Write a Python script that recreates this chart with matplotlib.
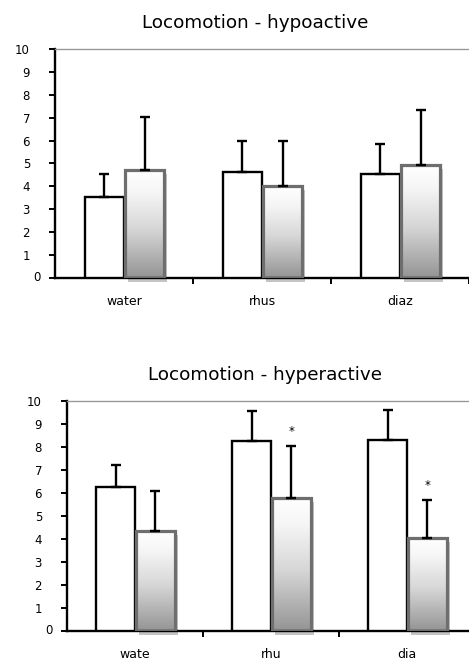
import numpy as np
import matplotlib
matplotlib.use("Agg")
import matplotlib.pyplot as plt
from matplotlib.patches import Rectangle
from matplotlib.colors import LinearSegmentedColormap
import matplotlib.transforms as mtransforms

plt.rcParams['font.family'] = ['DejaVu Sans']

titles = ["Locomotion - hypoactive", "Locomotion - hyperactive"]
cats_top = ["water", "rhus", "diaz"]
cats_bot = ["wate", "rhu", "dia"]
yticks = list(range(0, 11))

top_white = [3.55, 4.62, 4.52]
top_white_err = [1.0, 1.38, 1.33]
top_gray = [4.7, 4.0, 4.95]
top_gray_err = [2.35, 2.0, 2.4]

bot_white = [6.25, 8.25, 8.3]
bot_white_err = [0.95, 1.3, 1.3]
bot_gray = [4.35, 5.8, 4.05]
bot_gray_err = [1.75, 2.25, 1.65]
bot_star = [False, True, True]

W, H = 469, 660
fig = plt.figure(figsize=(W / 100, H / 100), dpi=100)

cmap = LinearSegmentedColormap.from_list(
    "g", [(0.0, "#ffffff"), (0.2, "#f6f6f6"), (0.55, "#d6d6d6"), (1.0, "#949494")])
grad = np.linspace(0, 1, 256).reshape(-1, 1)
PX = 72 / 100  # points per pixel


def panel(rect_px, title, title_cx, cats, wv, we, gv, ge, stars):
    l, t, r, b = rect_px
    ax = fig.add_axes([l / W, 1 - b / H, (r - l) / W, (b - t) / H])
    bw = 0.285
    x = np.arange(len(cats))
    shadow_tr = ax.transData + mtransforms.ScaledTranslation(3 / 100, -4 / 100, fig.dpi_scale_trans)
    for i in range(len(cats)):
        ax.add_patch(Rectangle((x[i] - bw, 0), bw, wv[i], facecolor="white",
                               edgecolor="black", lw=1.7, zorder=3))
        ax.errorbar(x[i] - bw / 2, wv[i], yerr=[[0], [we[i]]], fmt="none",
                    ecolor="black", elinewidth=1.7, capsize=3.8, capthick=1.7, zorder=4)
        gx = x[i] + 0.008
        ax.add_patch(Rectangle((gx, 0), bw, gv[i], facecolor="#c4c4c4",
                               edgecolor="none", transform=shadow_tr, clip_on=False, zorder=1))
        ax.imshow(grad, cmap=cmap, aspect="auto",
                  extent=(gx, gx + bw, 0, gv[i]),
                  origin="upper", zorder=2, interpolation="bilinear")
        ax.add_patch(Rectangle((gx, 0), bw, gv[i], facecolor="none",
                               edgecolor="#6e6e6e", lw=2.3, zorder=3))
        ax.errorbar(gx + bw / 2, gv[i], yerr=[[0], [ge[i]]], fmt="none",
                    ecolor="black", elinewidth=1.7, capsize=3.8, capthick=1.7, zorder=4)
        if stars[i]:
            ax.annotate("*", (gx + bw / 2, gv[i] + ge[i]),
                        xytext=(0, 6), textcoords="offset points",
                        ha="center", va="bottom", fontsize=8.5)
    ax.set_xlim(-0.5, len(cats) - 0.5)
    ax.set_ylim(0, 10)
    ax.set_yticks(yticks)
    ax.set_yticklabels([""] + [str(v) for v in yticks[1:]])
    ax.annotate(str(yticks[0]), xy=(0, 0), xycoords=("axes fraction", "data"),
                xytext=(-14 * PX, 0), textcoords="offset points",
                ha="right", va="center", fontsize=8.5, annotation_clip=False)
    ax.set_xticks(np.arange(len(cats)) + 0.5, minor=False)
    ax.set_xticklabels([])
    ax.set_xticks(x, minor=True)
    ax.set_xticklabels(cats, minor=True)
    ax.tick_params(axis="x", which="minor", length=0, pad=12, labelsize=9)
    ax.tick_params(axis="x", which="major", length=4, width=1.4, direction="out")
    ax.tick_params(axis="y", length=6 * PX, width=1.4, direction="out",
                   labelsize=8.5, pad=19 * PX)
    ax.spines["left"].set_linewidth(1.7)
    ax.spines["bottom"].set_linewidth(1.7)
    ax.spines["top"].set_color("#999999")
    ax.spines["top"].set_linewidth(1.0)
    ax.spines["right"].set_visible(False)
    ax.set_title(title, fontsize=13.2, pad=15, x=(title_cx - l) / (r - l))
    return ax


panel((55, 49, 469, 278), titles[0], 255, cats_top, top_white, top_white_err,
      top_gray, top_gray_err, [False, False, False])
panel((67, 401, 475, 631), titles[1], 265, cats_bot, bot_white, bot_white_err,
      bot_gray, bot_gray_err, bot_star)

fig.savefig("out.png", dpi=100)
